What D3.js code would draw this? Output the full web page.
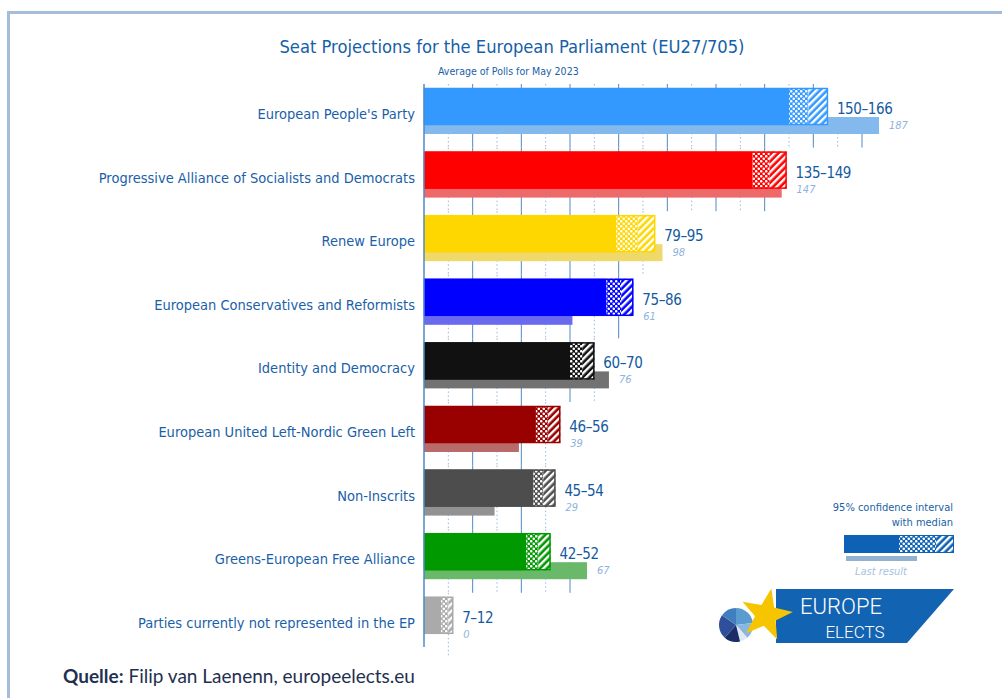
<!DOCTYPE html>
<html>
<head>
<meta charset="utf-8">
<script src="https://cdn.jsdelivr.net/npm/d3@7"></script>
<style>
body { margin:0; background:#ffffff; }
svg { display:block; }
.lbl { font-family:"Liberation Sans Narrow","DejaVu Sans Condensed",sans-serif; }
</style>
</head>
<body>
<svg id="graph"></svg>
<script>
//----------data-------------
var parties = ["European People's Party","Progressive Alliance of Socialists and Democrats","Renew Europe","European Conservatives and Reformists","Identity and Democracy","European United Left-Nordic Green Left","Non-Inscrits","Greens-European Free Alliance","Parties currently not represented in the EP"]
var lower = [150,135,79,75,60,46,45,42,7]
var median = [158,142,88,81,65,51,49,47,10]
var upper = [166,149,95,86,70,56,54,52,12]
var lastResult = [187,147,98,61,76,39,29,67,0]
var colors = ["#3399ff","#ff0000","#ffd700","#0000ff","#111111","#990000","#4d4d4d","#009900","#aaaaaa"]

var screen = {width:1002, height:698}
var blue = "#1a5fa8"
var step = 63.6

var svg = d3.select("#graph")
	.attr("width", screen.width)
	.attr("height", screen.height)

var defs = svg.append("defs")

//---------scales---------
var xScale = d3.scaleLinear()
	.domain([0,180])
	.range([424,862])
var yScale = d3.scaleBand()
	.domain(parties)
	.range([88, 88 + 9*step])

var rows = parties.map(function(p,i){
	return {name:p, lo:lower[i], med:median[i], hi:upper[i], last:lastResult[i], color:colors[i], id:i}
})

//---------patterns---------
var makePatterns = function(id, color)
{
	var dots = defs.append("pattern")
		.attr("id","dots"+id)
		.attr("patternUnits","userSpaceOnUse")
		.attr("width",5).attr("height",5)
	dots.append("rect").attr("width",5).attr("height",5).attr("fill",color)
	dots.append("circle").attr("cx",1.25).attr("cy",1.25).attr("r",1.3).attr("fill","#fff")
	dots.append("circle").attr("cx",3.75).attr("cy",3.75).attr("r",1.3).attr("fill","#fff")

	var stripes = defs.append("pattern")
		.attr("id","stripes"+id)
		.attr("patternUnits","userSpaceOnUse")
		.attr("width",5).attr("height",5)
		.attr("patternTransform","rotate(45)")
	stripes.append("rect").attr("width",5).attr("height",5).attr("fill",color)
	stripes.append("rect").attr("width",2.4).attr("height",5).attr("fill","#fff")
}
rows.forEach(function(r){ makePatterns(r.id, r.color) })
makePatterns("L","#0d62b5")

//---------frame---------
svg.append("path")
	.attr("d","M8.5,698 L8.5,12.5 L1002,12.5")
	.attr("fill","none")
	.attr("stroke","#a3bddb")
	.attr("stroke-width",3)

//---------title---------
svg.append("text").attr("class","lbl")
	.attr("x",512).attr("y",53)
	.attr("text-anchor","middle")
	.attr("fill","#1560a8")
	.attr("font-size",18.2)
	.text("Seat Projections for the European Parliament (EU27/705)")
svg.append("text").attr("class","lbl")
	.attr("x",438).attr("y",75)
	.attr("fill",blue)
	.attr("font-size",10.5)
	.text("Average of Polls for May 2023")

//---------grid (per row)---------
var gridLines = []
rows.forEach(function(d){
	var top = yScale(d.name)
	var topMax = Math.floor(d.hi/10)*10
	var lowMax = Math.floor(Math.max(d.hi,d.last)/10)*10
	d3.range(10, topMax+1, 10).forEach(function(t){
		gridLines.push({t:t, y1:top-4, y2:top+29})
	})
	d3.range(10, lowMax+1, 10).forEach(function(t){
		gridLines.push({t:t, y1:top+29, y2:top+step-4})
	})
})

svg.append("g").selectAll("line")
	.data(gridLines)
	.enter()
	.append("line")
	.attr("x1",function(l){ return xScale(l.t) })
	.attr("x2",function(l){ return xScale(l.t) })
	.attr("y1",function(l){ return l.y1 })
	.attr("y2",function(l){ return l.y2 })
	.attr("stroke",function(l){ return l.t % 20 == 0 ? "#5189c6" : "#94b9e1" })
	.attr("stroke-width",1)
	.attr("stroke-dasharray",function(l){ return l.t % 20 == 0 ? null : "1.5,2.5" })

//---------bars---------
var g = svg.append("g").selectAll("g")
	.data(rows)
	.enter()
	.append("g")

g.append("rect")
	.attr("x",xScale(0))
	.attr("y",function(d){ return yScale(d.name)+29 })
	.attr("width",function(d){ return xScale(d.last)-xScale(0) })
	.attr("height",17)
	.attr("fill",function(d){ return d3.interpolateRgb(d.color,"#dcdcdc")(0.48) })

g.append("rect")
	.attr("x",xScale(0))
	.attr("y",function(d){ return yScale(d.name) })
	.attr("width",function(d){ return xScale(d.lo)-xScale(0) })
	.attr("height",37)
	.attr("fill",function(d){ return d.color })

g.append("rect")
	.attr("x",function(d){ return xScale(d.lo) })
	.attr("y",function(d){ return yScale(d.name) })
	.attr("width",function(d){ return xScale(d.med)-xScale(d.lo) })
	.attr("height",37)
	.attr("fill",function(d){ return "url(#dots"+d.id+")" })

g.append("rect")
	.attr("x",function(d){ return xScale(d.med) })
	.attr("y",function(d){ return yScale(d.name) })
	.attr("width",function(d){ return xScale(d.hi)-xScale(d.med) })
	.attr("height",37)
	.attr("fill",function(d){ return "url(#stripes"+d.id+")" })

g.append("rect")
	.attr("x",xScale(0)+0.5)
	.attr("y",function(d){ return yScale(d.name)+0.5 })
	.attr("width",function(d){ return xScale(d.hi)-xScale(0)-1 })
	.attr("height",36)
	.attr("fill","none")
	.attr("stroke",function(d){ return d.color })
	.attr("stroke-width",1.5)

//---------labels---------
g.append("text").attr("class","lbl")
	.attr("x",415)
	.attr("y",function(d){ return yScale(d.name)+31 })
	.attr("text-anchor","end")
	.attr("fill",blue)
	.attr("font-size",14.5)
	.text(function(d){ return d.name })

g.append("text").attr("class","lbl")
	.attr("x",function(d){ return xScale(d.hi)+9 })
	.attr("y",function(d){ return yScale(d.name)+26 })
	.attr("fill","#155a9f")
	.attr("font-size",15)
	.attr("letter-spacing",-0.4)
	.text(function(d){ return d.lo + "\u2013" + d.hi })

g.append("text").attr("class","lbl")
	.attr("x",function(d){ return xScale(Math.max(d.hi,d.last))+10 })
	.attr("y",function(d){ return yScale(d.name)+41 })
	.attr("fill","#8fb3dc")
	.attr("font-size",11)
	.attr("font-style","italic")
	.text(function(d){ return d.last })

//---------axis line---------
svg.append("line")
	.attr("x1",xScale(0)).attr("x2",xScale(0))
	.attr("y1",84).attr("y2",647)
	.attr("stroke","#5189c6")
	.attr("stroke-width",1.5)

//---------legend---------
svg.append("text").attr("class","lbl")
	.attr("x",953).attr("y",511)
	.attr("text-anchor","end").attr("fill",blue).attr("font-size",11)
	.text("95% confidence interval")
svg.append("text").attr("class","lbl")
	.attr("x",953).attr("y",526)
	.attr("text-anchor","end").attr("fill",blue).attr("font-size",11)
	.text("with median")
svg.append("rect").attr("x",846).attr("y",556).attr("width",71).attr("height",5).attr("fill","#93b1d1")
svg.append("rect").attr("x",844).attr("y",535).attr("width",55).attr("height",18).attr("fill","#0d62b5")
svg.append("rect").attr("x",899).attr("y",535).attr("width",37).attr("height",18).attr("fill","url(#dotsL)")
svg.append("rect").attr("x",936).attr("y",535).attr("width",18).attr("height",18).attr("fill","url(#stripesL)")
svg.append("rect").attr("x",844.5).attr("y",535.5).attr("width",109).attr("height",17).attr("fill","none").attr("stroke","#0d62b5")
svg.append("text").attr("class","lbl")
	.attr("x",881).attr("y",575)
	.attr("text-anchor","middle").attr("fill","#a8c2de").attr("font-size",11).attr("font-style","italic")
	.text("Last result")

//---------logo---------
var logo = svg.append("g")
logo.append("path").attr("d","M776,589 L954,589 L907,643 L776,643 Z").attr("fill","#1363b3")
var pie = d3.pie().sort(null)([3,2,1,2,3,2])
var pieColors = ["#5a9bd0","#8ab7df","#dfeaf5","#1c2e66","#2f4f9a","#3f7fc0"]
logo.append("g").attr("transform","translate(736,625)")
	.selectAll("path").data(pie).enter().append("path")
	.attr("d",d3.arc().innerRadius(0).outerRadius(17))
	.attr("fill",function(d,i){ return pieColors[i] })
var star = d3.range(10).map(function(i){
	var a = -Math.PI/2 + i*Math.PI/5 + 0.2
	var r = i % 2 == 0 ? 27 : 11
	return [766 + r*Math.cos(a), 615 + r*Math.sin(a)]
})
logo.append("path").attr("d","M"+star.join("L")+"Z").attr("fill","#f6c500")
logo.append("text").attr("x",841).attr("y",614).attr("text-anchor","middle")
	.attr("fill","#fff").attr("font-family","Roboto, sans-serif").attr("font-weight",300).attr("font-size",22).text("EUROPE")
logo.append("text").attr("x",855).attr("y",638).attr("text-anchor","middle")
	.attr("fill","#fff").attr("font-family","Roboto, sans-serif").attr("font-weight",300).attr("font-size",17).text("ELECTS")

//---------source---------
var src = svg.append("text")
	.attr("x",63).attr("y",683)
	.attr("fill","#1f3050")
	.attr("font-family","Lato, sans-serif")
	.attr("font-size",19)
src.append("tspan").attr("font-weight","bold").text("Quelle:")
src.append("tspan").text(" Filip van Laenenn, europeelects.eu")
</script>
</body>
</html>
